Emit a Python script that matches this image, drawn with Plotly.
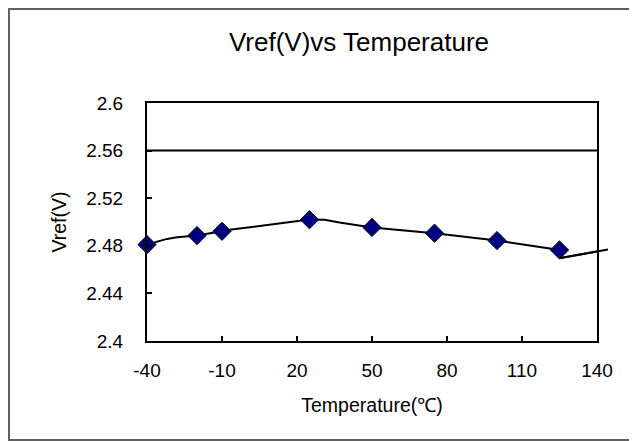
import plotly.graph_objects as go

# Measured points (markers)
temps = [-40, -20, -10, 25, 50, 75, 100, 125]
vref = [2.481, 2.4886, 2.4922, 2.5019, 2.4954, 2.4906, 2.4844, 2.4765]

# Smoothed connecting line as drawn in the reference
line_temps = [-40, -32, -28, -20, -10, -7, 25, 31, 37, 50, 75, 100, 125, 125.5, 144.4]
line_vref = [2.481, 2.4858, 2.4872, 2.4886, 2.4922, 2.4934, 2.502, 2.5019, 2.4995,
             2.4954, 2.4906, 2.4844, 2.4765, 2.4698, 2.4768]

x_ticks = [-40, -10, 20, 50, 80, 110, 140]
y_ticks = [2.4, 2.44, 2.48, 2.52, 2.56, 2.6]
y_tick_labels = ["2.4", "2.44", "2.48", "2.52", "2.56", "2.6"]
ref_level = 2.56
x_range = [-40, 140]
y_range = [2.4, 2.6]

FONT = "Liberation Sans, Arial, sans-serif"
OFF = 8  # page body margin offset
W, H = 637 - OFF, 441 - OFF
L, T = 147 - OFF, 103 - OFF
R = W - (597 - OFF)
B = H - (341 - OFF)
plot_w = W - L - R
plot_h = H - T - B

fig = go.Figure()
fig.add_trace(go.Scatter(x=line_temps, y=line_vref, mode="lines",
                         line=dict(color="black", width=2), cliponaxis=False,
                         showlegend=False, hoverinfo="skip"))
fig.add_trace(go.Scatter(x=temps, y=vref, mode="markers",
                         marker=dict(symbol="diamond", size=14, color="#000080",
                                     line=dict(color="black", width=1)),
                         showlegend=False, cliponaxis=False))

fig.add_hline(y=ref_level, line=dict(color="black", width=2))

# tail of the line that runs past the right axis (unclipped, paper coords from axis ranges)
to_px = lambda v: (v - x_range[0]) / (x_range[1] - x_range[0])
to_py = lambda v: (v - y_range[0]) / (y_range[1] - y_range[0])
fig.add_shape(type="line", xref="paper", yref="paper",
              x0=to_px(line_temps[-2]), y0=to_py(line_vref[-2]),
              x1=to_px(line_temps[-1]), y1=to_py(line_vref[-1]),
              line=dict(color="black", width=2))

# outer frame
px = lambda p: (p - OFF - L) / plot_w
py = lambda p: (H - B - (p - OFF)) / plot_h
fig.add_shape(type="rect", xref="paper", yref="paper",
              x0=px(9), x1=px(650), y0=py(440), y1=py(9),
              line=dict(color="#606060", width=2), layer="below")

fig.update_layout(
    width=W, height=H,
    margin=dict(l=L, r=R, t=T, b=B),
    paper_bgcolor="white", plot_bgcolor="white",
    font=dict(family=FONT, color="black"),
    title=dict(text="Vref(V)vs Temperature", x=(359 - OFF) / W, xanchor="center",
               y=1 - (42 - OFF) / H, yanchor="middle",
               font=dict(size=26, family=FONT, color="black")),
    xaxis=dict(range=x_range, tickvals=x_ticks,
               ticktext=[str(v) for v in x_ticks],
               showgrid=False, zeroline=False, showline=True, linecolor="black",
               linewidth=2, mirror=True, ticks="inside", ticklen=5, tickwidth=1.5,
               tickcolor="black", tickfont=dict(size=19, family=FONT),
               ticklabelstandoff=11,
               title=dict(text="Temperature(℃)", font=dict(size=19.5, family=FONT),
                          standoff=19)),
    yaxis=dict(range=y_range, tickvals=y_ticks, ticktext=y_tick_labels,
               showgrid=False, zeroline=False, showline=True, linecolor="black",
               linewidth=2, mirror=True, ticks="inside", ticklen=5, tickwidth=1.5,
               tickcolor="black", tickfont=dict(size=19, family=FONT),
               ticklabelstandoff=18,
               title=dict(text="Vref(V)", font=dict(size=19.5, family=FONT),
                          standoff=14)),
)

fig.write_html("out.html")
